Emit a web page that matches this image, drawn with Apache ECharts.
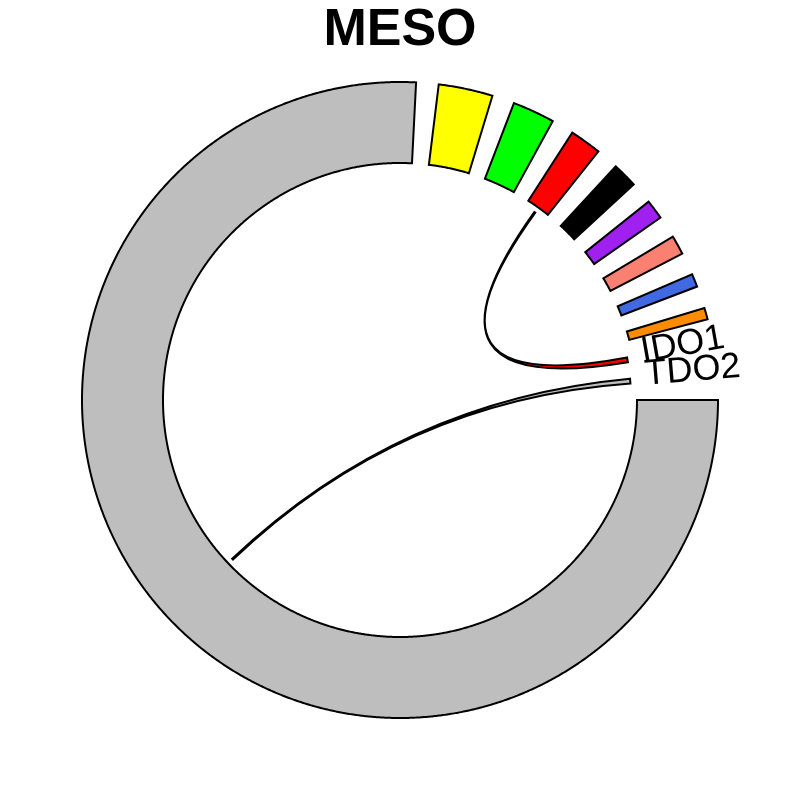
<!DOCTYPE html>
<html>
<head>
<meta charset="utf-8">
<script src="https://cdn.jsdelivr.net/npm/echarts@6/dist/echarts.min.js"></script>
<style>
  html, body { margin: 0; padding: 0; background: #fff; }
  #chart { width: 800px; height: 800px; }
</style>
</head>
<body>
<div id="chart"></div>
<script>
const sectorNames = ['rest', 's1', 's2', 's3', 's4', 's5', 's6', 's7', 's8', 'IDO1', 'TDO2'];
const sectorValues = [272.9, 9.9, 7.7, 5.8, 4.6, 3.6, 3.5, 2.4, 2.1, 1.2, 1.2];
const sectorColors = ['#BEBEBE', '#FFFF00', '#00FF00', '#FF0000', '#000000', '#A020F0',
  '#FA8072', '#4169E1', '#FF8C00', '#FF0000', '#BEBEBE'];
const sectorLabels = ['', '', '', '', '', '', '', '', '', 'IDO1', 'TDO2'];
const drawTrack = [true, true, true, true, true, true, true, true, true, false, false];
const gapValue = 4.1;

// links (source end is thin, sits mid-sector; target end fills its sector)
const linkSource = ['s3', 'rest'];
const linkTarget = ['IDO1', 'TDO2'];
const linkSourceWidth = [0.3, 0.3];
const linkColors = ['#FF0000', '#BEBEBE'];

const RING_IN = 237, RING_OUT = 318, LINK_R = 231, LABEL_R = 246;

// cumulative layout along the angle axis
const starts = [], ends = [];
let pos = 0;
sectorValues.forEach(v => { starts.push(pos); ends.push(pos + v); pos += v + gapValue; });
const total = pos;

const chart = echarts.init(document.getElementById('chart'), null, { renderer: 'canvas' });

function arcPts(api, r, a0, a1) {
  const pts = [];
  const n = Math.max(2, Math.ceil(Math.abs(a1 - a0) / 0.25));
  for (let k = 0; k <= n; k++) {
    const p = api.coord([r, a0 + (a1 - a0) * k / n]);
    pts.push([p[0], p[1]]);
  }
  return pts;
}

chart.setOption({
  animation: false,
  title: {
    text: 'MESO', left: 'center', top: 0,
    textStyle: { fontSize: 52, fontWeight: 'bold', color: '#000', fontFamily: 'Liberation Sans' }
  },
  polar: { center: ['50%', '50%'], radius: [0, RING_OUT] },
  radiusAxis: { type: 'value', min: 0, max: RING_OUT, show: false },
  angleAxis: { type: 'value', min: 0, max: total, startAngle: 0, clockwise: true, show: false },
  series: [
    {
      type: 'custom', coordinateSystem: 'polar',
      data: sectorValues.map((v, i) => [RING_OUT, i]),
      renderItem: function (params, api) {
        const i = params.dataIndex;
        if (!drawTrack[i]) return null;
        const pts = arcPts(api, RING_OUT, starts[i], ends[i])
          .concat(arcPts(api, RING_IN, ends[i], starts[i]));
        return {
          type: 'polygon', shape: { points: pts },
          style: { fill: sectorColors[i], stroke: '#000', lineWidth: 2, lineJoin: 'miter' }
        };
      }
    },
    {
      type: 'custom', coordinateSystem: 'polar',
      data: linkSource.map((s, i) => [LINK_R, i]),
      renderItem: function (params, api) {
        const i = params.dataIndex;
        const si = sectorNames.indexOf(linkSource[i]);
        const ti = sectorNames.indexOf(linkTarget[i]);
        const mid = (starts[si] + ends[si]) / 2;
        const s0 = mid - linkSourceWidth[i] / 2, s1 = mid + linkSourceWidth[i] / 2;
        const t0 = starts[ti], t1 = ends[ti];
        const c = api.coord([0, 0]);
        const sa = arcPts(api, LINK_R, s0, s1);
        const ta = arcPts(api, LINK_R, t0, t1);
        let d = 'M' + sa[0][0] + ' ' + sa[0][1];
        sa.slice(1).forEach(p => { d += ' L' + p[0] + ' ' + p[1]; });
        d += ' Q' + c[0] + ' ' + c[1] + ' ' + ta[0][0] + ' ' + ta[0][1];
        ta.slice(1).forEach(p => { d += ' L' + p[0] + ' ' + p[1]; });
        d += ' Q' + c[0] + ' ' + c[1] + ' ' + sa[0][0] + ' ' + sa[0][1] + ' Z';
        return {
          type: 'path', shape: { pathData: d },
          style: { fill: linkColors[i], stroke: '#000', lineWidth: 2 }
        };
      }
    },
    {
      type: 'custom', coordinateSystem: 'polar',
      data: sectorLabels.map((s, i) => [LABEL_R, i]),
      renderItem: function (params, api) {
        const i = params.dataIndex;
        if (!sectorLabels[i]) return null;
        const p = api.coord([LABEL_R, (starts[i] + ends[i]) / 2]);
        return {
          type: 'text', x: p[0], y: p[1], rotation: p[3],
          style: {
            text: sectorLabels[i], x: 0, y: -5, fill: '#000', fontSize: 36,
            fontFamily: 'Liberation Sans', align: 'left', verticalAlign: 'middle'
          }
        };
      }
    }
  ]
});
</script>
</body>
</html>
